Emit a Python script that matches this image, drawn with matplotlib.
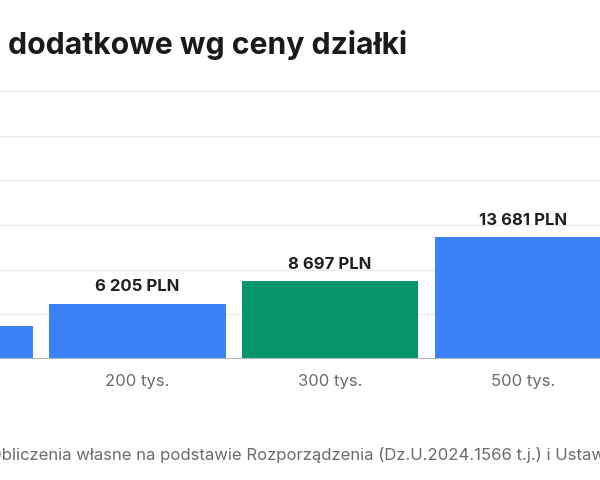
import matplotlib.pyplot as plt

# Data read from the (cropped) chart
categories = ['100 tys.', '200 tys.', '300 tys.', '500 tys.']
values = [3713, 6205, 8697, 13681]
bar_colors = ['#3b82f6', '#3b82f6', '#059669', '#3b82f6']
value_labels = ['3 713 PLN', '6 205 PLN', '8 697 PLN', '13 681 PLN']
grid_ticks = [5000, 10000, 15000, 20000, 25000, 30000]

title = 'dodatkowe wg ceny działki'
footer = 'Obliczenia własne na podstawie Rozporządzenia (Dz.U.2024.1566 t.j.) i Ustawy'

plt.rcParams['font.family'] = ['Inter', 'DejaVu Sans']

fig = plt.figure(figsize=(6, 4.8), dpi=100)
fig.patch.set_facecolor('white')

# axes spans the full width; the view is a crop of a wider chart
ax = fig.add_axes([0, 121 / 480, 1, 268 / 480])
x = list(range(len(categories)))
ax.bar(x, values, width=0.917, color=bar_colors, zorder=3)

for gy in grid_ticks:
    ax.axhline(gy, color='#ececec', linewidth=1, zorder=1)
ax.axhline(0, color='#b5b5b5', linewidth=1.5, zorder=4)

for xi, v, lab in zip(x, values, value_labels):
    ax.annotate(lab, (xi, v), xytext=(0, 12), textcoords='offset points',
                ha='center', va='center', fontsize=12, fontweight='bold',
                color='#1f1f1f', annotation_clip=False)

ax.set_xticks(x)
ax.set_xticklabels(categories, fontsize=12, color='#6b6b6b')
ax.tick_params(axis='x', length=0, pad=11)
ax.set_yticks([])
for s in ax.spines.values():
    s.set_visible(False)

# limits after the ticks, so the crop is kept
ax.set_xlim(0.29, 3.399)
ax.set_ylim(0, 30000)

fig.text(8 / 600, 1 - 45 / 480, title, ha='left', va='center',
         fontsize=21.7, fontweight='bold', color='#1a1a1a')
fig.text(-11 / 600, 1 - 455 / 480, footer, ha='left', va='center',
         fontsize=12, color='#6b6b6b')

fig.savefig('out.png', dpi=100)
